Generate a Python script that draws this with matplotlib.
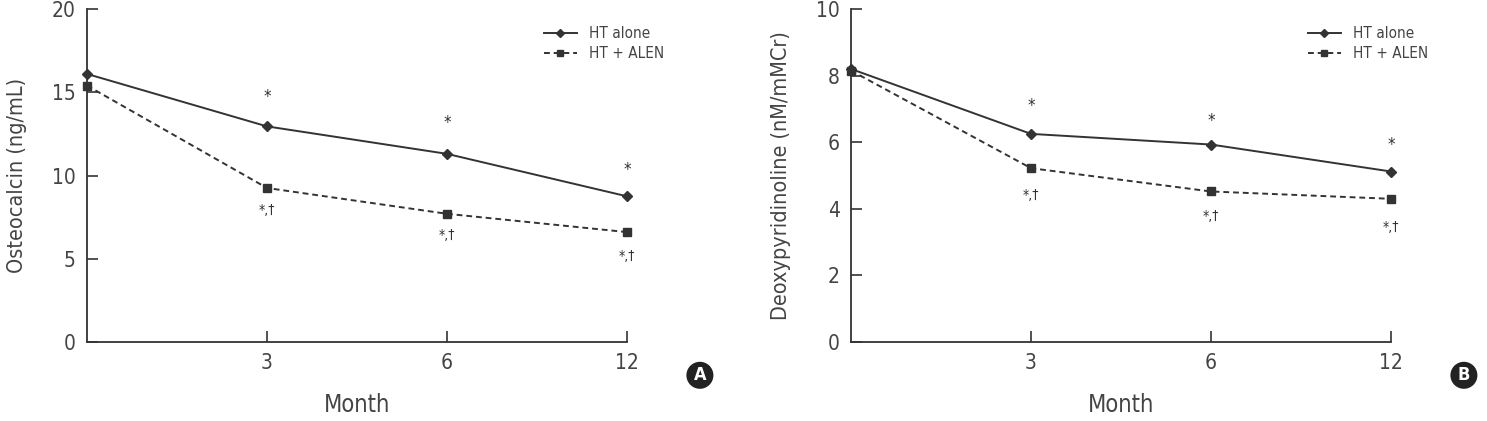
import matplotlib
matplotlib.use('Agg')
from matplotlib import pyplot as plt

plt.rcParams['font.family'] = ['DejaVu Sans']
plt.rcParams['font.stretch'] = 'condensed'

# data
months = ['', '3', '6', '12']
osteo_ht = [16.1, 12.95, 11.3, 8.75]
osteo_alen = [15.4, 9.25, 7.7, 6.6]
dpd_ht = [8.2, 6.25, 5.93, 5.12]
dpd_alen = [8.15, 5.22, 4.52, 4.3]
ylab_a = 'Osteocalcin (ng/mL)'
ylab_b = 'Deoxypyridinoline (nM/mMCr)'

col = '#333333'
fig = plt.figure(figsize=(14.87, 4.21), dpi=100)
axA = fig.add_axes([87/1487, 1-342/421, 540/1487, 333/421])
axB = fig.add_axes([851/1487, 1-342/421, 540/1487, 333/421])


def panel(ax, ht, alen, ymax, step, ylab, letter, star_up, star_dn):
    x = list(range(len(months)))
    ax.plot(x, ht, '-', color=col, lw=1.4, marker='D', ms=5.5, clip_on=False, label='HT alone')
    ax.plot(x, alen, '--', color=col, lw=1.4, marker='s', ms=5.5, dashes=(3, 2),
            clip_on=False, label='HT + ALEN')
    ax.set_xlim(0, 3)
    ax.set_ylim(0, ymax)
    ax.set_xticks(x[1:])
    ax.set_xticklabels(months[1:])
    ax.set_yticks([i * step for i in range(int(ymax / step) + 1)])
    for s in ['top', 'right']:
        ax.spines[s].set_visible(False)
    for s in ['left', 'bottom']:
        ax.spines[s].set_color(col)
        ax.spines[s].set_linewidth(1.3)
    ax.tick_params(direction='in', length=8, width=1.2, color=col, labelsize=15,
                   labelcolor='#444444', pad=8)
    ax.set_xlabel('Month', fontsize=17, color='#444444', labelpad=14)
    ax.set_ylabel(ylab, fontsize=15.5, color='#444444', labelpad=18)
    for i in range(1, 4):
        ax.annotate('*', (x[i], ht[i]), xytext=(0, star_up[i - 1]), textcoords='offset points',
                    ha='center', va='center', fontsize=12, color=col)
        ax.annotate('*,\u2020', (x[i], alen[i]), xytext=(0, -star_dn[i - 1]),
                    textcoords='offset points', ha='center', va='center', fontsize=10, color=col)
    ax.legend(loc='upper right', bbox_to_anchor=(1.095, 0.99), frameon=False,
              fontsize=11, handlelength=2.2, labelcolor='#444444', markerscale=0.8,
              labelspacing=0.35)
    ax.text(1.135, -0.1, letter, transform=ax.transAxes, ha='center', va='center',
            fontsize=13, fontweight='bold', color='white',
            bbox=dict(boxstyle='circle,pad=0.25', fc='#222222', ec='none'))


panel(axA, osteo_ht, osteo_alen, 20, 5, ylab_a, 'A', [21, 22, 19], [16, 15, 17])
panel(axB, dpd_ht, dpd_alen, 10, 2, ylab_b, 'B', [20, 17, 19], [19, 18, 20])

plt.savefig('out.png', dpi=100)
